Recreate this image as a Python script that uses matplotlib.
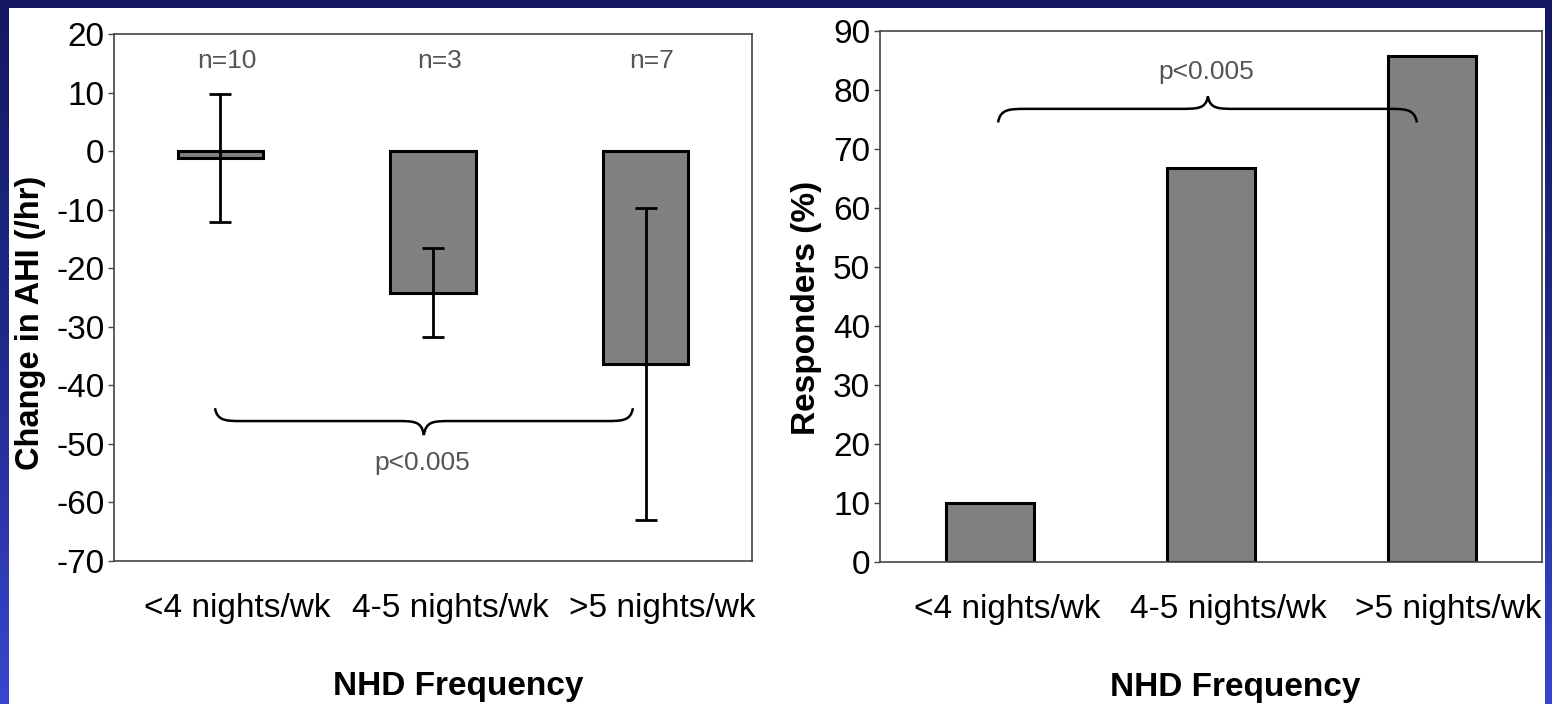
import numpy as np
import matplotlib
matplotlib.use('Agg')
import matplotlib.pyplot as plt
import matplotlib.transforms as mtransforms
from matplotlib.path import Path
from matplotlib.patches import PathPatch, Rectangle
from matplotlib.colors import LinearSegmentedColormap

plt.rcParams['font.family'] = ['Liberation Sans', 'DejaVu Sans']
plt.rcParams['axes.unicode_minus'] = False

# NHD frequency groups
categories = ['<4 nights/wk', '4-5 nights/wk', '>5 nights/wk']
n_patients = [10, 3, 7]
ahi_change = [-1.2, -24.2, -36.4]     # mean change in AHI (/hr)
ahi_err = [10.9, 7.6, 26.6]           # SD
responders = [10.0, 66.7, 85.7]       # % responders
p_text = 'p<0.005'

W, H = 1552, 704
fig = plt.figure(figsize=(W / 100, H / 100), dpi=100)

# slide background: blue gradient frame with a white panel
bg = fig.add_axes([0, 0, 1, 1], zorder=-10)
cmap = LinearSegmentedColormap.from_list('slide', ['#141862', '#1f2a8c', '#3a45cf'])
grad = np.linspace(0, 1, 256).reshape(-1, 1)
bg.imshow(grad, cmap=cmap, aspect='auto', extent=[0, 1, 0, 1], origin='upper')
bg.add_patch(Rectangle((9 / W, 0), (1545 - 9) / W, 1 - 8 / H, color='white', lw=0))
bg.set_xlim(0, 1)
bg.set_ylim(0, 1)
bg.axis('off')


def brace(ax, x0, x1, xt, y_end, y_mid, y_tip, curl=0.13):
    # curly brace from x0 to x1 with its point at xt
    verts = [
        (x0, y_end), (x0 + 0.01, y_mid), (x0 + curl * 0.4, y_mid), (x0 + curl, y_mid),
        (xt - curl, y_mid),
        (xt - curl * 0.35, y_mid), (xt - 0.01, y_mid), (xt, y_tip),
        (xt + 0.01, y_mid), (xt + curl * 0.35, y_mid), (xt + curl, y_mid),
        (x1 - curl, y_mid),
        (x1 - curl * 0.4, y_mid), (x1 - 0.01, y_mid), (x1, y_end),
    ]
    codes = [Path.MOVETO, Path.CURVE4, Path.CURVE4, Path.CURVE4,
             Path.LINETO,
             Path.CURVE4, Path.CURVE4, Path.CURVE4,
             Path.CURVE4, Path.CURVE4, Path.CURVE4,
             Path.LINETO,
             Path.CURVE4, Path.CURVE4, Path.CURVE4]
    ax.add_patch(PathPatch(Path(verts, codes), fill=False, lw=1.8,
                           edgecolor='black', zorder=5, clip_on=False))


def style_axes(ax):
    for s in ax.spines.values():
        s.set_color('#444444')
        s.set_linewidth(1.2)
    ax.tick_params(axis='y', direction='out', length=4, width=1, pad=3,
                   labelsize=24, colors='#444444', labelcolor='black')
    ax.tick_params(axis='x', length=0, pad=23, labelsize=24)
    offset = mtransforms.ScaledTranslation(0.17, 0, fig.dpi_scale_trans)
    for lbl in ax.get_xticklabels():
        lbl.set_transform(lbl.get_transform() + offset)


x = np.arange(len(categories))

# left panel: change in AHI
ax1 = fig.add_axes([114 / W, 1 - 561 / H, 638 / W, 527 / H])
ax1.bar(x, ahi_change, width=0.4, color='#808080', edgecolor='black', linewidth=2.2, zorder=2)
ax1.errorbar(x, ahi_change, yerr=ahi_err, fmt='none', ecolor='black',
             elinewidth=2, capsize=8, capthick=2, zorder=3)
for xi, n in zip(x, n_patients):
    ax1.text(xi + 0.03, 15.4, f'n={n}', ha='center', va='center', fontsize=19, color='#555555')
brace(ax1, -0.025, 1.94, 0.957, -43.9, -46.1, -48.5)
ax1.text(0.95, -53.2, p_text, ha='center', va='center', fontsize=19, color='#555555')
ax1.set_xlim(-0.5, 2.5)
ax1.set_ylim(-70, 20)
ax1.set_yticks(np.arange(-70, 21, 10))
ax1.set_xticks(x)
ax1.set_xticklabels(categories)
ax1.set_ylabel('Change in AHI (/hr)', fontsize=23.5, fontweight='bold')
ax1.set_xlabel('NHD Frequency', fontsize=24, fontweight='bold')
ax1.yaxis.set_label_coords(-0.106, 0.452)
ax1.xaxis.set_label_coords(0.539, -0.209)
style_axes(ax1)

# right panel: responders
ax2 = fig.add_axes([880 / W, 1 - 562 / H, 662 / W, 531 / H])
ax2.bar(x, responders, width=0.4, color='#808080', edgecolor='black', linewidth=2.2, zorder=2)
brace(ax2, 0.035, 1.933, 0.986, 74.5, 76.8, 78.9)
ax2.text(0.98, 83.0, p_text, ha='center', va='center', fontsize=19, color='#555555')
ax2.set_xlim(-0.5, 2.5)
ax2.set_ylim(0, 90)
ax2.set_yticks(np.arange(0, 91, 10))
ax2.set_xticks(x)
ax2.set_xticklabels(categories)
ax2.set_ylabel('Responders (%)', fontsize=24, fontweight='bold')
ax2.set_xlabel('NHD Frequency', fontsize=24, fontweight='bold')
ax2.yaxis.set_label_coords(-0.087, 0.478)
ax2.xaxis.set_label_coords(0.536, -0.207)
style_axes(ax2)

fig.savefig('out.png', dpi=100)
